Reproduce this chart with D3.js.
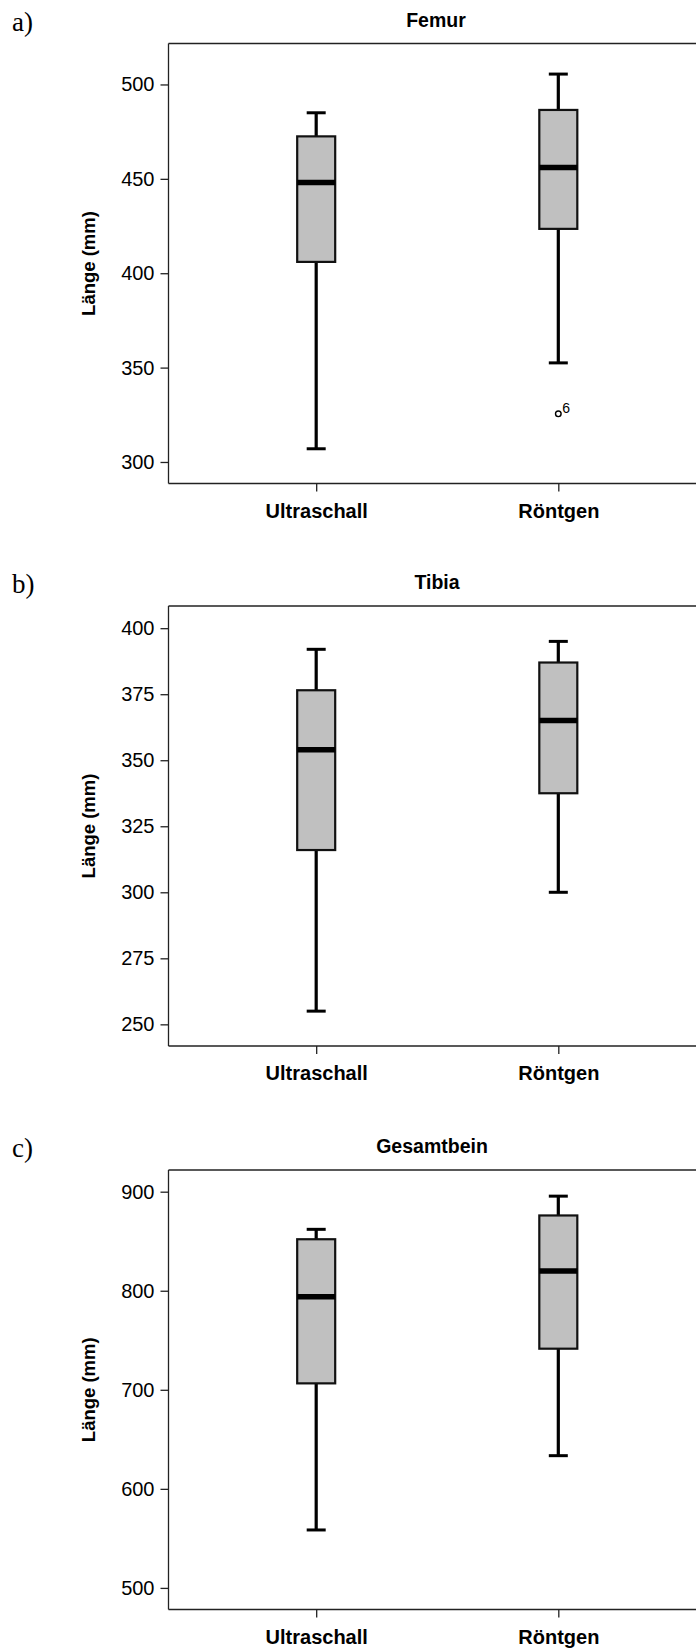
<!DOCTYPE html>
<html><head><meta charset="utf-8">
<script src="https://cdn.jsdelivr.net/npm/d3@7"></script>
<style>
html,body{margin:0;padding:0;background:#fff;}
svg{display:block;}
</style></head>
<body>
<script>
// ---- data ----
const categories = ["Ultraschall", "Röntgen"];
const panelLabels = ["a)", "b)", "c)"];
const panelTitles = ["Femur", "Tibia", "Gesamtbein"];
const yAxisTitle = "Länge (mm)";
// [lowerWhisker, q1, median, q3, upperWhisker] per category
const femurStats = [[307, 406, 448, 472.5, 485], [352.5, 423.5, 456, 486.5, 505.5]];
const tibiaStats = [[255, 316, 354, 376.5, 392], [300, 337.5, 365, 387, 395]];
const gesamtStats = [[558.5, 706.5, 794, 852, 862], [633.5, 741.5, 820, 876, 895.5]];
const femurOutliers = [{cat: "Röntgen", value: 325.5, label: "6"}];
const tibiaOutliers = [];
const gesamtOutliers = [];
const femurTicks = [300, 350, 400, 450, 500];
const tibiaTicks = [250, 275, 300, 325, 350, 375, 400];
const gesamtTicks = [500, 600, 700, 800, 900];
const femurDomain = [288.6, 521.7];
const tibiaDomain = [241.8, 408.4];
const gesamtDomain = [478.2, 921.9];

// layout (positions only)
const layout = [
  {top: 43.5, bottom: 483.5, titleX: 436},
  {top: 606, bottom: 1046, titleX: 437},
  {top: 1170, bottom: 1609.5, titleX: 432}
];

const panels = [
  {label: panelLabels[0], title: panelTitles[0], stats: femurStats, outliers: femurOutliers, ticks: femurTicks, domain: femurDomain},
  {label: panelLabels[1], title: panelTitles[1], stats: tibiaStats, outliers: tibiaOutliers, ticks: tibiaTicks, domain: tibiaDomain},
  {label: panelLabels[2], title: panelTitles[2], stats: gesamtStats, outliers: gesamtOutliers, ticks: gesamtTicks, domain: gesamtDomain}
];

const W = 696, H = 1648;
const left = 168.5, right = 706;
const sans = "'Liberation Sans', Arial, sans-serif";
const serif = "'Liberation Serif', 'Times New Roman', serif";

const svg = d3.select("body").append("svg").attr("width", W).attr("height", H);

const x = d3.scalePoint().domain(categories).range([left, right]).padding(0.61);
const boxW = 38, capW = 19;

panels.forEach((p, pi) => {
  const L = layout[pi];
  const g = svg.append("g");
  const y = d3.scaleLinear().domain(p.domain).range([L.bottom, L.top]);

  // panel label
  g.append("text").attr("x", 12).attr("y", L.top - 13)
    .attr("font-family", serif).attr("font-size", 27).attr("fill", "#000").text(p.label);
  // title
  g.append("text").attr("x", L.titleX).attr("y", L.top - 17)
    .attr("text-anchor", "middle").attr("font-family", sans).attr("font-weight", "bold")
    .attr("font-size", 19.5).attr("fill", "#000").text(p.title);

  // frame top
  g.append("line").attr("x1", left).attr("x2", W).attr("y1", L.top).attr("y2", L.top)
    .attr("stroke", "#222").attr("stroke-width", 1.3);

  // y axis
  const ya = g.append("g").attr("transform", `translate(${left},0)`)
    .call(d3.axisLeft(y).tickValues(p.ticks).tickSize(8).tickPadding(6).tickSizeOuter(0));
  ya.select(".domain").attr("stroke", "#222").attr("stroke-width", 1.3)
    .attr("d", `M0,${L.top}V${L.bottom}`);
  ya.selectAll(".tick line").attr("stroke", "#222").attr("stroke-width", 1.3);
  ya.selectAll(".tick text").attr("font-family", sans).attr("font-size", 20).attr("fill", "#000");

  // x axis
  const xa = g.append("g").attr("transform", `translate(0,${L.bottom})`)
    .call(d3.axisBottom(x).tickSize(8).tickPadding(12).tickSizeOuter(0));
  xa.select(".domain").attr("stroke", "#222").attr("stroke-width", 1.3)
    .attr("d", `M${left},0H${W}`);
  xa.selectAll(".tick line").attr("stroke", "#222").attr("stroke-width", 1.3);
  xa.selectAll(".tick text").attr("font-family", sans).attr("font-size", 20)
    .attr("font-weight", "bold").attr("fill", "#000");

  // y axis title
  g.append("text")
    .attr("transform", `translate(95,${(L.top + L.bottom) / 2}) rotate(-90)`)
    .attr("text-anchor", "middle").attr("font-family", sans).attr("font-weight", "bold")
    .attr("font-size", 18.5).attr("fill", "#000").text(yAxisTitle);

  // boxes
  p.stats.forEach((s, i) => {
    const cx = x(categories[i]);
    const bg = g.append("g");
    bg.append("line").attr("x1", cx).attr("x2", cx).attr("y1", y(s[0])).attr("y2", y(s[1]))
      .attr("stroke", "#000").attr("stroke-width", 3.2);
    bg.append("line").attr("x1", cx).attr("x2", cx).attr("y1", y(s[3])).attr("y2", y(s[4]))
      .attr("stroke", "#000").attr("stroke-width", 3.2);
    bg.append("line").attr("x1", cx - capW / 2).attr("x2", cx + capW / 2).attr("y1", y(s[0])).attr("y2", y(s[0]))
      .attr("stroke", "#000").attr("stroke-width", 3);
    bg.append("line").attr("x1", cx - capW / 2).attr("x2", cx + capW / 2).attr("y1", y(s[4])).attr("y2", y(s[4]))
      .attr("stroke", "#000").attr("stroke-width", 3);
    bg.append("rect").attr("x", cx - boxW / 2).attr("y", y(s[3]))
      .attr("width", boxW).attr("height", y(s[1]) - y(s[3]))
      .attr("fill", "#c0c0c0").attr("stroke", "#111").attr("stroke-width", 2.2);
    bg.append("line").attr("x1", cx - boxW / 2).attr("x2", cx + boxW / 2).attr("y1", y(s[2])).attr("y2", y(s[2]))
      .attr("stroke", "#000").attr("stroke-width", 5.5);
  });

  // outliers
  p.outliers.forEach(o => {
    const cx = x(o.cat);
    g.append("circle").attr("cx", cx).attr("cy", y(o.value)).attr("r", 2.8)
      .attr("fill", "#fff").attr("stroke", "#000").attr("stroke-width", 1.4);
    g.append("text").attr("x", cx + 4).attr("y", y(o.value) - 1)
      .attr("font-family", sans).attr("font-size", 14).attr("fill", "#000").text(o.label);
  });
});
</script>
</body></html>
